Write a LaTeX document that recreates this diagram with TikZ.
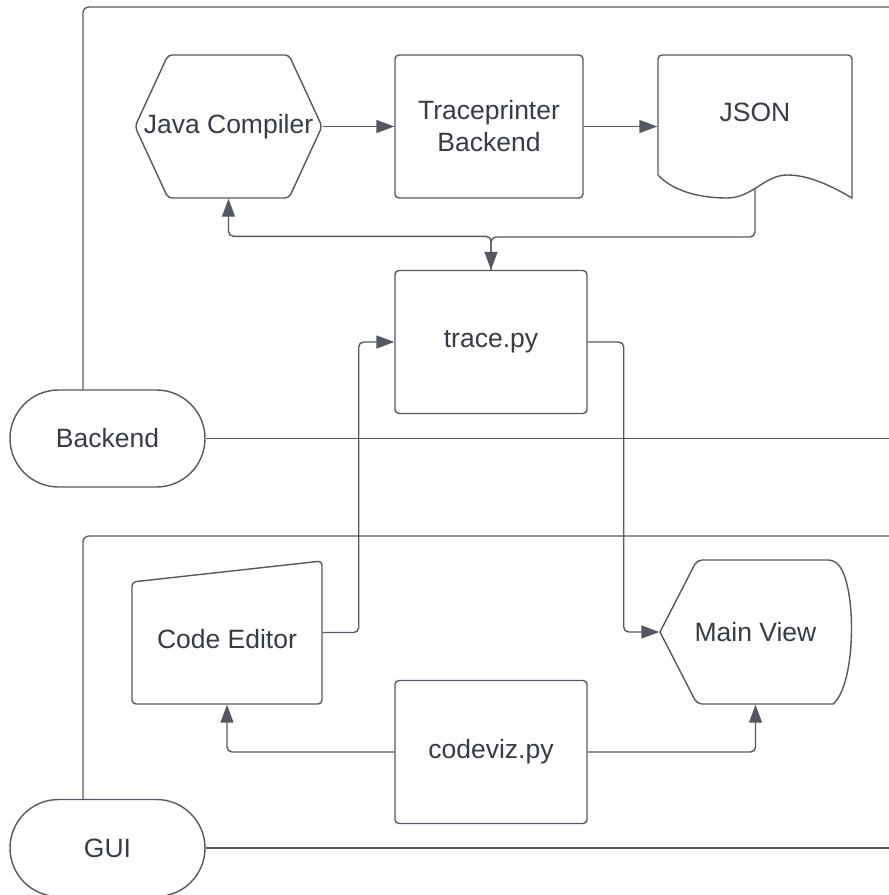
\documentclass[tikz,border=0pt]{standalone}
\usepackage{fontspec}
\setmainfont{Liberation Sans}
\usepackage{tikz}
\usetikzlibrary{arrows.meta,shapes.misc,calc}
\definecolor{linegray}{RGB}{84,89,97}
\definecolor{textgray}{RGB}{54,60,68}
\tikzset{
  txt/.style={text=textgray, font=\fontsize{26.5}{32}\selectfont, align=center},
  box/.style={txt, draw=linegray, line width=1.4pt, rounded corners=4pt, minimum width=192pt, minimum height=143pt, inner sep=0pt},
  ghost/.style={box, draw=none},
  shp/.style={draw=linegray, line width=1.4pt},
  term/.style={txt, draw=linegray, line width=1.4pt, rounded rectangle, minimum width=195pt, minimum height=97pt, inner sep=0pt},
  arr/.style={draw=linegray, line width=1.4pt, rounded corners=5pt, -{Triangle[length=18pt,width=13pt]}},
  lane/.style={draw=linegray, line width=1.3pt, rounded corners=6pt},
}

\begin{document}
\begin{tikzpicture}[x=1pt,y=-1pt]
\useasboundingbox (0,0) rectangle (889,895);

\node[term] (backend) at (107.5,438.5) {Backend};
\node[term] (gui) at (107.5,848) {GUI};
\coordinate (bktop) at (889,7);
\coordinate (bkend) at (889,438.5);
\coordinate (guitop) at (889,536);
\coordinate (guiend) at (889,848);
\draw[lane] ($(backend.north)+(-24.5,0)$) |- (bktop);
\draw[lane] (backend.east) -- (bkend);
\draw[lane] ($(gui.north)+(-24.5,0)$) |- (guitop);
\draw[lane] (gui.east) -- (guiend);

\node[ghost, minimum width=187pt] (java) at (228.5,126.5) {Java Compiler};
\draw[shp, rounded corners=4pt] (135,126.5) -- (168,55) -- (289,55) -- (322,126.5) -- (289,198) -- (168,198) -- cycle;
\node[box, minimum width=188pt] (tracer) at (489,126.5) {Traceprinter\\Backend};
\node[ghost, minimum width=194pt, label={[txt, yshift=14pt]center:JSON}] (json) at (755,126.5) {};
\draw[shp] (658,175) [rounded corners=4pt] -- (658,55) -- (852,55) [sharp corners] -- (852,198)
  .. controls (825,182) and (805,175) .. (787,175)
  .. controls (765,175) and (752,198) .. (727,198)
  .. controls (697,198) and (672,190) .. (658,175);
\coordinate (jsonbot) at (755,188);

\node[box] (trace) at (491,342) {trace.py};

\node[ghost, minimum width=190pt, label={[txt, yshift=-7pt]center:Code Editor}] (editor) at (227,632.5) {};
\draw[shp, rounded corners=4pt] (132,582) -- (322,561) -- (322,704) -- (132,704) -- cycle;
\node[ghost, minimum width=191pt, minimum height=144pt] (mainview) at (755.5,632) {Main View};
\draw[shp, rounded corners=5pt] (660,632) -- (697,560) -- (833,560)
  [sharp corners] .. controls (857,580) and (857,684) .. (833,704)
  [rounded corners=5pt] -- (697,704) -- (660,632);
\node[box] (codeviz) at (491,752) {codeviz.py};

\draw[arr] (java.east) -- (tracer.west);
\draw[arr] (tracer.east) -- (json.west);
\draw[arr] (trace.north) -- ++(0,-33.5) -| (java.south);
\draw[arr] (jsonbot) -- ++(0,49) -| (trace.north);
\draw[arr] (editor.east) -- ++(36,0) |- (trace.west);
\draw[arr] (trace.east) -- ++(36,0) |- (mainview.west);
\draw[arr] (codeviz.west) -| (editor.south);
\draw[arr] (codeviz.east) -| (mainview.south);
\end{tikzpicture}
\end{document}
